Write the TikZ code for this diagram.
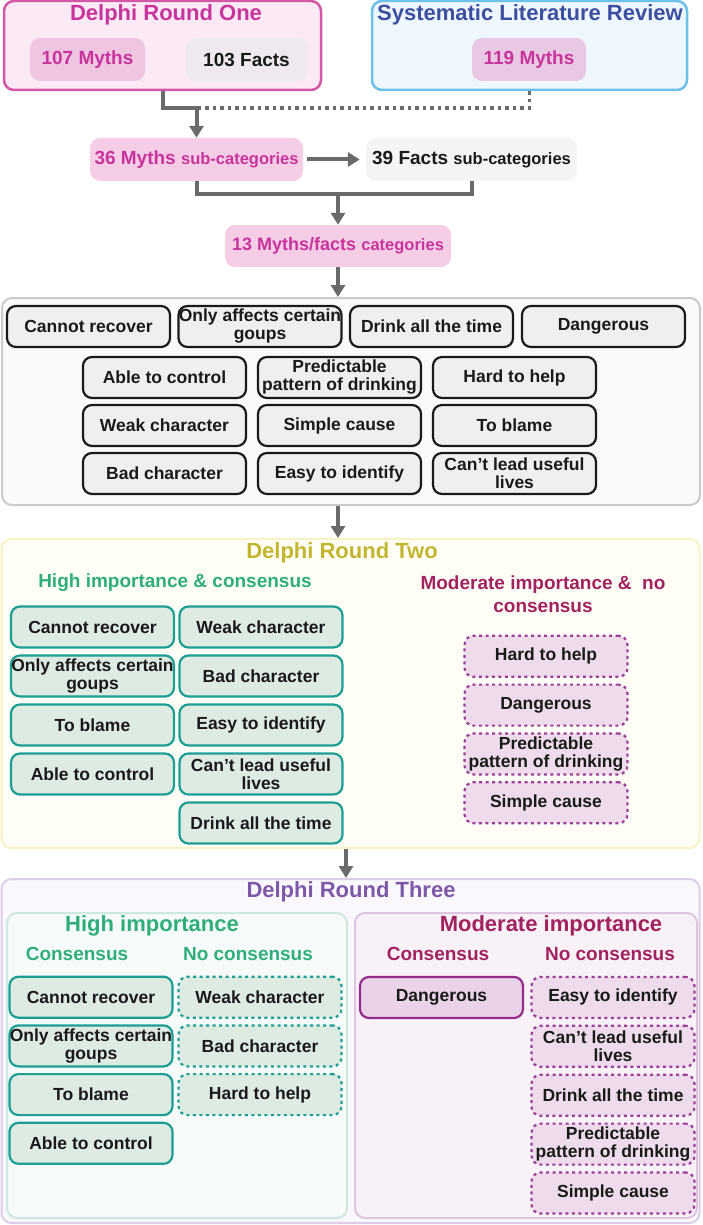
\documentclass[tikz,border=0pt]{standalone}
\usepackage{fontspec}
\setmainfont{Liberation Sans}
\usetikzlibrary{arrows.meta}
\definecolor{ink}{HTML}{1A1A1A}
\definecolor{arrowgrey}{HTML}{6A6A6A}
\definecolor{orchid}{HTML}{C7349B}
\definecolor{orchidline}{HTML}{D257A6}
\definecolor{blush}{HTML}{FBEAF5}
\definecolor{pinkchip}{HTML}{EFC5E2}
\definecolor{pinkchiptwo}{HTML}{E8C8E3}
\definecolor{pinkchipthree}{HTML}{F6CDE6}
\definecolor{greychip}{HTML}{EFE9EF}
\definecolor{factgrey}{HTML}{F4F4F4}
\definecolor{skyline}{HTML}{6CC0EA}
\definecolor{skyfill}{HTML}{EEF7FD}
\definecolor{indigo}{HTML}{3D4EA0}
\definecolor{greyline}{HTML}{CACACA}
\definecolor{greyfill}{HTML}{FAFAFA}
\definecolor{chipgrey}{HTML}{EFEFEF}
\definecolor{lemonline}{HTML}{F7F3C4}
\definecolor{lemonfill}{HTML}{FEFEF6}
\definecolor{olive}{HTML}{C3B62F}
\definecolor{mint}{HTML}{2FAE7C}
\definecolor{lagoon}{HTML}{1C9E94}
\definecolor{lagoonfill}{HTML}{DDEBE3}
\definecolor{plum}{HTML}{A2215F}
\definecolor{plumline}{HTML}{9B3F98}
\definecolor{plumfill}{HTML}{EEDCEC}
\definecolor{plumdark}{HTML}{952C8D}
\definecolor{plumsolid}{HTML}{EAD3E8}
\definecolor{lavline}{HTML}{DCCDE6}
\definecolor{lavfill}{HTML}{FAF8FC}
\definecolor{violet}{HTML}{7E58A8}
\definecolor{mintline}{HTML}{CDE8E0}
\definecolor{mintfill}{HTML}{F6FAF8}
\definecolor{mauveline}{HTML}{DEC6E0}
\definecolor{mauvefill}{HTML}{F8F2F8}
\newcommand\chipfont{\fontsize{17.5}{18}\selectfont\bfseries}
\newcommand\countfont{\fontsize{19}{21}\selectfont\bfseries}
\newcommand\smallcount{\fontsize{16.5}{18}\selectfont\bfseries}
\newcommand\bigtitlefont{\fontsize{22}{24}\selectfont\bfseries}
\newcommand\headfont{\fontsize{19}{23}\selectfont\bfseries}

\begin{document}
\begin{tikzpicture}[x=1pt, y=-1pt,
    >={Triangle[length=12pt,width=14pt]},
    flow/.style={draw=arrowgrey, line width=4pt},
    dotflow/.style={draw=arrowgrey, line width=3.5pt, dash pattern=on 3.5pt off 4pt},
    panel/.style={rectangle, rounded corners=10pt, line width=2.5pt, inner sep=0pt},
    chip/.style={rectangle, rounded corners=10pt, inner sep=0pt, minimum height=43pt, font=\countfont},
    item/.style={rectangle, rounded corners=9pt, draw=ink, line width=2.2pt, fill=chipgrey,
      minimum width=163pt, minimum height=41pt, align=center, inner sep=0pt, font=\chipfont, text=ink},
    tealitem/.style={item, draw=lagoon, fill=lagoonfill},
    tealdash/.style={tealitem, dash pattern=on 3pt off 3.5pt},
    plumdash/.style={item, draw=plumline, fill=plumfill, dash pattern=on 3pt off 3.5pt},
    plumitem/.style={item, draw=plumdark, fill=plumsolid},
    bigtitle/.style={font=\bigtitlefont},
    heading/.style={font=\headfont, align=center}]
  % fixed 702 x 1225 canvas
  \useasboundingbox (0,0) rectangle (702,1225);

  % ================= 1) sources =================
  \node[panel, draw=orchidline, fill=blush, minimum width=317pt, minimum height=89pt] (one) at (162.5,45.5) {};
  \node[bigtitle, text=orchid] (onetitle) at (166,15) {Delphi Round One};
  \node[chip, fill=pinkchip, text=orchid, minimum width=115pt] (myths107) at (87.5,59.5) {107 Myths};
  \node[chip, fill=greychip, text=ink, minimum width=121pt] (facts103) at (246.5,59.5) {103 Facts};

  \node[panel, draw=skyline, fill=skyfill, minimum width=315pt, minimum height=89pt] (slr) at (529.5,45.5) {};
  \node[bigtitle, text=indigo] (slrtitle) at (530,15) {Systematic Literature Review};
  \node[chip, fill=pinkchiptwo, text=orchid, minimum width=114pt] (myths119) at (529,59.5) {119 Myths};

  % ================= 2) sub-categories and categories =================
  \node[chip, fill=pinkchipthree, text=orchid, minimum width=213pt] (m36) at (196.5,159.5)
    {36 Myths {\smallcount sub-categories}};
  \node[chip, fill=factgrey, text=ink, minimum width=211pt] (f39) at (471.5,159.5)
    {39 Facts {\smallcount sub-categories}};
  \node[chip, fill=pinkchipthree, text=orchid, minimum width=226pt, minimum height=42pt] (c13) at (338,246)
    {{\fontsize{18}{20}\selectfont 13 Myths/facts} {\smallcount categories}};

  \coordinate (meet) at (196.5,108);
  \coordinate (fork) at (338,194);
  \draw[dotflow] (slr.south) |- (meet);
  \draw[flow, ->] (one.south) |- (meet) -- (m36.north);
  \draw[flow, ->, shorten <=4pt, shorten >=6pt] (m36) -- (f39);
  \draw[flow] (m36.south) |- (f39.south |- fork) -- (f39.south);
  \draw[flow, ->] (fork) -- (c13.north);

  % ================= 3) the 13 categories =================
  \node[panel, draw=greyline, fill=greyfill, line width=2pt, minimum width=698pt, minimum height=207pt] (grid) at (351,401.5) {};
  \node[item] (g1) at (88.5,326.5) {Cannot recover};
  \node[item] (g2) at (260,326.5) {Only affects certain\\goups};
  \node[item] (g3) at (431.5,326.5) {Drink all the time};
  \node[item] (g4) at (603.5,326.5) {Dangerous};
  \node[item] (g5) at (164.5,377.5) {Able to control};
  \node[item] (g6) at (339.5,377.5) {Predictable\\pattern of drinking};
  \node[item] (g7) at (514.5,377.5) {Hard to help};
  \node[item] (g8) at (164.5,425.5) {Weak character};
  \node[item] (g9) at (339.5,425.5) {Simple cause};
  \node[item] (g10) at (514.5,425.5) {To blame};
  \node[item] (g11) at (164.5,473.5) {Bad character};
  \node[item] (g12) at (339.5,473.5) {Easy to identify};
  \node[item] (g13) at (514.5,473.5) {Can’t lead useful\\lives};
  \draw[flow, ->] (c13.south) -- (c13.south |- grid.north);

  % ================= 4) Delphi round two =================
  \node[panel, draw=lemonline, fill=lemonfill, line width=2pt, minimum width=698pt, minimum height=309pt] (two) at (350.5,693.5) {};
  \node[bigtitle, text=olive] (twotitle) at (342,553) {Delphi Round Two};
  \node[heading, text=mint] (twohigh) at (175,583) {High importance \& consensus};
  \node[heading, text=plum] (twomod) at (543,594.5) {Moderate importance \&\ \ no\\consensus};
  \foreach \lbl [count=\i] in {Cannot recover, {Only affects certain\\goups}, To blame, Able to control}
    \node[tealitem] (ha\i) at (92.5,578+49*\i) {\lbl};
  \foreach \lbl [count=\i] in {Weak character, Bad character, Easy to identify, {Can’t lead useful\\lives}, Drink all the time}
    \node[tealitem] (hb\i) at (261,578+49*\i) {\lbl};
  \foreach \lbl [count=\i] in {Hard to help, Dangerous, {Predictable\\pattern of drinking}, Simple cause}
    \node[plumdash] (mo\i) at (546,607.5+48.8*\i) {\lbl};
  \draw[flow, ->] (c13.south |- grid.south) -- (c13.south |- two.north);

  % ================= 5) Delphi round three =================
  \node[panel, draw=lavline, fill=lavfill, line width=2pt, minimum width=698pt, minimum height=344pt] (three) at (350.5,1051) {};
  \node[bigtitle, text=violet] (threetitle) at (351,892) {Delphi Round Three};
  \node[panel, draw=mintline, fill=mintfill, line width=2pt, minimum width=340pt, minimum height=305pt] (highbox) at (177,1065.5) {};
  \node[panel, draw=mauveline, fill=mauvefill, line width=2pt, minimum width=342pt, minimum height=305pt] (modbox) at (526,1065.5) {};
  \node[bigtitle, text=mint] (highhead) at (152,926) {High importance};
  \node[bigtitle, text=plum] (modhead) at (551,926) {Moderate importance};
  \node[heading, text=mint] (hicons) at (77,954) {Consensus};
  \node[heading, text=mint] (hinocons) at (248,954) {No consensus};
  \node[heading, text=plum] (mocons) at (438,954) {Consensus};
  \node[heading, text=plum] (monocons) at (610,954) {No consensus};
  \foreach \lbl [count=\i] in {Cannot recover, {Only affects certain\\goups}, To blame, Able to control}
    \node[tealitem] (hc\i) at (91,948.5+48.7*\i) {\lbl};
  \foreach \lbl [count=\i] in {Weak character, Bad character, Hard to help}
    \node[tealdash] (hn\i) at (260,948.5+48.7*\i) {\lbl};
  \node[plumitem] (mc1) at (441.5,997.5) {Dangerous};
  \foreach \lbl [count=\i] in {Easy to identify, {Can’t lead useful\\lives}, Drink all the time, {Predictable\\pattern of drinking}, Simple cause}
    \node[plumdash] (mn\i) at (613,948.5+48.9*\i) {\lbl};
  \draw[flow, ->] ([xshift=-4.5pt]two.south) -- ([xshift=-4.5pt]three.north);
\end{tikzpicture}
\end{document}
